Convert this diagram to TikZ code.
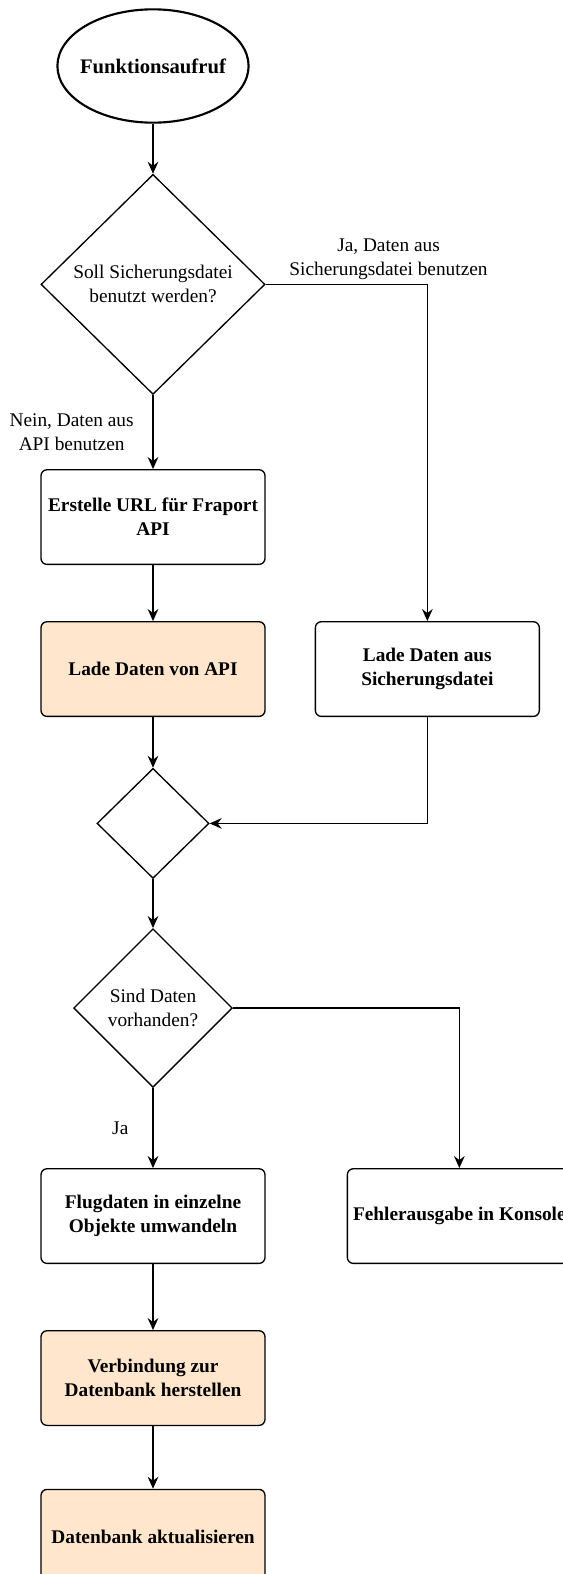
\documentclass[tikz,border=0pt]{standalone}
\usepackage{fontspec}
\setmainfont{Liberation Serif}
\usepackage{tikz}
\usetikzlibrary{positioning,shapes.geometric,arrows.meta}
\definecolor{flowOrange}{HTML}{FFE6CC}

\begin{document}
\begin{tikzpicture}[x=0.75pt,y=-0.75pt,node distance=40pt,
  box/.style={draw,rounded corners=4.5pt,line width=1pt,minimum width=168pt,minimum height=71pt,inner sep=2pt,align=center,font=\fontsize{14.5}{18}\selectfont\bfseries},
  decision/.style={draw,diamond,aspect=1,line width=1pt,inner sep=0pt,align=center,font=\fontsize{14.5}{18}\selectfont},
  flowarrow/.style={line width=1pt,-{Stealth[length=9pt,width=8pt,inset=3pt]}},
  edgelabel/.style={align=center,inner sep=1pt,font=\fontsize{14.5}{18}\selectfont}]
  \useasboundingbox (0,0) rectangle (563,1574);
  \node[draw,ellipse,line width=1.6pt,inner xsep=-4pt,inner ysep=24.5pt,font=\fontsize{15.5}{18}\selectfont\bfseries] (start) at (153,66) {Funktionsaufruf};
  \node[decision,minimum width=168pt,minimum height=165pt,below=37.5pt of start] (usebackup) {Soll Sicherungsdatei\\benutzt werden?};
  \node[box,below=55.5pt of usebackup] (buildurl) {Erstelle URL für Fraport\\API};
  \node[box,fill=flowOrange,below=42pt of buildurl] (loadapi) {Lade Daten von API};
  \node[box,right=36.75pt of loadapi] (loadbackup) {Lade Daten aus\\Sicherungsdatei};
  \node[decision,minimum width=84pt,minimum height=82.5pt,below=38pt of loadapi] (merge) {};
  \node[decision,minimum width=119pt,minimum height=119pt,below=36.75pt of merge] (hasdata) {Sind Daten\\vorhanden?};
  \node[box,below=60pt of hasdata] (convert) {Flugdaten in einzelne\\Objekte umwandeln};
  \node[box,right=60.75pt of convert] (errorout) {Fehlerausgabe in Konsole};
  \node[box,fill=flowOrange,below=49.5pt of convert] (dbconnect) {Verbindung zur\\Datenbank herstellen};
  \node[box,fill=flowOrange,below=47pt of dbconnect] (dbupdate) {Datenbank aktualisieren};

  \draw[flowarrow] (start) -- (usebackup);
  \draw[flowarrow] (usebackup.east) -| node[edgelabel,pos=0.38,above=2pt] {Ja, Daten aus\\Sicherungsdatei benutzen} (loadbackup.north);
  \draw[flowarrow] (usebackup.south) -- node[edgelabel,left=13pt] {Nein, Daten aus\\API benutzen} (buildurl.north);
  \draw[flowarrow] (buildurl) -- (loadapi);
  \draw[flowarrow] (loadapi) -- (merge);
  \draw[flowarrow] (loadbackup.south) |- (merge.east);
  \draw[flowarrow] (merge) -- (hasdata);
  \draw[flowarrow] (hasdata.south) -- node[edgelabel,left=17pt] {Ja} (convert.north);
  \draw[flowarrow] (hasdata.east) -| (errorout.north);
  \draw[flowarrow] (convert) -- (dbconnect);
  \draw[flowarrow] (dbconnect) -- (dbupdate);
\end{tikzpicture}
\end{document}
